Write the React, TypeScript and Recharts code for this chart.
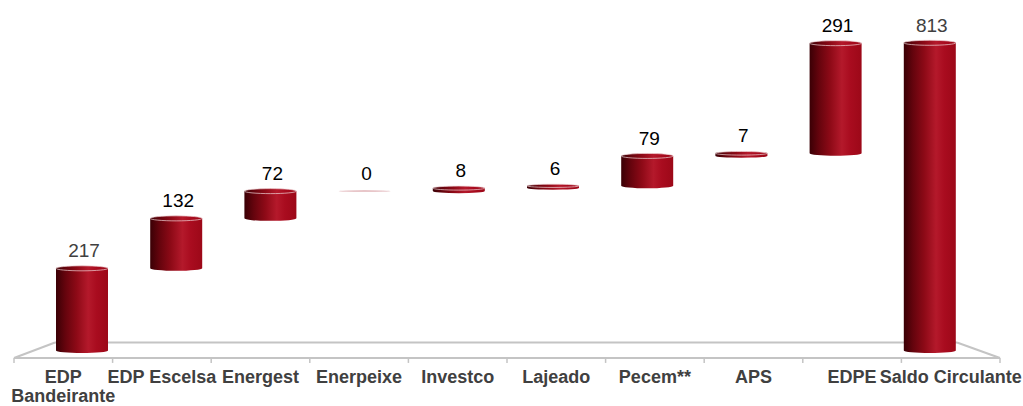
import React from 'react';
import { ComposedChart, Bar, XAxis, YAxis, ReferenceLine, LabelList } from 'recharts';

const categories = [
  'EDP Bandeirante',
  'EDP Escelsa',
  'Energest',
  'Enerpeixe',
  'Investco',
  'Lajeado',
  'Pecem**',
  'APS',
  'EDPE',
  'Saldo Circulante',
];
const tickLabelLines: string[][] = [
  ['EDP', 'Bandeirante'],
  ['EDP Escelsa'],
  ['Energest'],
  ['Enerpeixe'],
  ['Investco'],
  ['Lajeado'],
  ['Pecem**'],
  ['APS'],
  ['EDPE'],
  ['Saldo Circulante'],
];
const values = [217, 132, 72, 0, 8, 6, 79, 7, 291, 813];
const isTotal = [false, false, false, false, false, false, false, false, false, true];

let running = 0;
const data = categories.map((name, i) => {
  let low: number;
  let high: number;
  if (isTotal[i]) {
    low = 0;
    high = values[i];
  } else {
    low = running;
    high = running + values[i];
    running = high;
  }
  return { name, value: values[i], range: [low, high] };
});

const W = 1023;
const H = 406;
const FONT = '"Liberation Sans", Arial, Helvetica, sans-serif';
const FLOOR = '#c4c4c4';

const CylinderBar = (props: any) => {
  const { x, y, width, height } = props;
  if (x == null || y == null) return null;
  const rx = width / 2;
  const cx = x + rx;
  if (!height || height < 0.6) {
    return <ellipse cx={cx} cy={y} rx={rx} ry={1} fill="#e2b8bc" opacity={0.8} />;
  }
  const ry = Math.min(2.5, height / 2 + 0.5);
  const body = `M${x},${y} L${x},${y + height} A${rx},${ry} 0 0 0 ${x + width},${y + height} L${x + width},${y} Z`;
  return (
    <g>
      <path d={body} fill="url(#cylBody)" />
      <ellipse cx={cx} cy={y} rx={rx} ry={ry} fill="url(#cylBody)" stroke="#efd3d6" strokeWidth={0.7} />
    </g>
  );
};

const ValueLabel = (props: any) => {
  const { x, y, width, value, index } = props;
  const gray = index === 0 || isTotal[index];
  return (
    <text
      x={x + width / 2 + 2}
      y={y - 11}
      textAnchor="middle"
      fontFamily={FONT}
      fontSize={19}
      fill={gray ? '#404040' : '#000000'}
    >
      {value}
    </text>
  );
};

const CategoryTick = (props: any) => {
  const { x, y, payload } = props;
  const idx = payload && payload.index != null ? payload.index : categories.indexOf(payload.value);
  const lines = tickLabelLines[idx] || [String(payload.value)];
  return (
    <text x={x} y={y + 17} textAnchor="middle" fontFamily={FONT} fontSize={18} fontWeight="bold" fill="#404040">
      {lines.map((l, i) => (
        <tspan key={i} x={x} dy={i === 0 ? 0 : 19}>
          {l}
        </tspan>
      ))}
    </text>
  );
};

const boundaries = categories.map((_, i) => i).concat([categories.length]);

export default function App() {
  return (
    <div style={{ position: 'absolute', left: 0, top: 0, width: W, height: H, background: '#fff' }}>
      <ComposedChart
        width={W}
        height={H}
        data={data}
        margin={{ top: 25, right: 23, left: 14, bottom: 8 }}
      >
        <defs>
          <linearGradient id="cylBody" x1="0" y1="0" x2="1" y2="0">
            <stop offset="0%" stopColor="#3a0005" />
            <stop offset="18%" stopColor="#65040d" />
            <stop offset="40%" stopColor="#8e0a17" />
            <stop offset="62%" stopColor="#b4192b" />
            <stop offset="78%" stopColor="#a90c1f" />
            <stop offset="100%" stopColor="#9c0818" />
          </linearGradient>
        </defs>
        <XAxis
          xAxisId="labels"
          dataKey="name"
          height={40}
          interval={0}
          tickLine={false}
          axisLine={{ stroke: FLOOR, strokeWidth: 2 }}
          tick={<CategoryTick />}
        />
        <YAxis hide domain={[-20, 860]} type="number" allowDataOverflow />
        <XAxis
          xAxisId="floor"
          orientation="top"
          dataKey="value"
          type="number"
          domain={[0, 10]}
          hide
          allowDataOverflow
        />
        <XAxis xAxisId="bars" orientation="top" dataKey="name" hide padding={{ left: 21, right: 23 }} />
        <ReferenceLine
          xAxisId="floor"
          segment={[{ x: 0.416, y: 21 }, { x: 9.564, y: 21 }]}
          stroke={FLOOR}
          strokeWidth={2}
          ifOverflow="visible"
          zIndex={0}
        />
        <ReferenceLine
          xAxisId="floor"
          segment={[{ x: 0, y: -20 }, { x: 0.416, y: 21 }]}
          stroke={FLOOR}
          strokeWidth={2}
          ifOverflow="visible"
          zIndex={0}
        />
        <ReferenceLine
          xAxisId="floor"
          segment={[{ x: 10, y: -20 }, { x: 9.564, y: 21 }]}
          stroke={FLOOR}
          strokeWidth={2}
          ifOverflow="visible"
          zIndex={0}
        />
        {boundaries.map((b) => (
          <ReferenceLine
            key={'t' + b}
            xAxisId="floor"
            segment={[{ x: b, y: -20 }, { x: b, y: -33 }]}
            stroke={FLOOR}
            strokeWidth={1.5}
            ifOverflow="visible"
          />
        ))}
        <Bar
          xAxisId="bars"
          dataKey="range"
          barSize={52}
          shape={<CylinderBar />}
          isAnimationActive={false}
        >
          <LabelList dataKey="value" content={<ValueLabel />} />
        </Bar>
      </ComposedChart>
    </div>
  );
}
